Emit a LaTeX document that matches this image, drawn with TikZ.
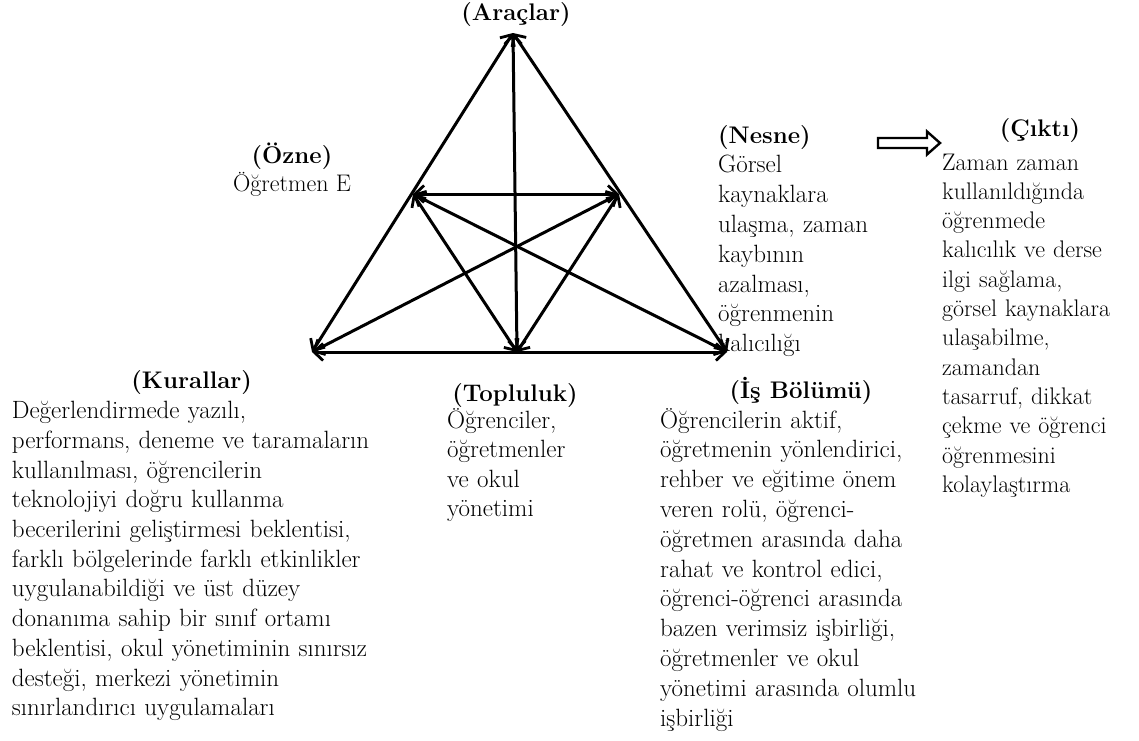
\documentclass[tikz,border=0pt]{standalone}
\usetikzlibrary{arrows.meta}
\begin{document}
\begin{tikzpicture}[x=1pt,y=-1pt,
  conn/.style={line width=3pt, {Straight Barb[length=9pt,width=17pt,line width=2.8pt]}-{Straight Barb[length=9pt,width=17pt,line width=2.8pt]}},
  txt/.style={inner sep=0pt, align=left, text width=#1, anchor=base west},
  ttl/.style={inner sep=0pt, font=\fontsize{24}{29}\selectfont\bfseries, anchor=base},
  outarrow/.style={line width=2.4pt, fill=white, line join=miter}
]
\useasboundingbox (0,0) rectangle (1139,740);

% triangle vertices and mid points
\coordinate (A) at (513,33);
\coordinate (BL) at (312,352);
\coordinate (BR) at (727,352);
\coordinate (LM) at (413,194);
\coordinate (RM) at (619,194);
\coordinate (BM) at (517,352);

\draw[conn] (A) -- (BL);
\draw[conn] (A) -- (BR);
\draw[conn] (BL) -- (BR);
\draw[conn] (A) -- (BM);
\draw[conn] (LM) -- (RM);
\draw[conn] (LM) -- (BM);
\draw[conn] (RM) -- (BM);
\draw[conn] (LM) -- (BR);
\draw[conn] (RM) -- (BL);

% labels
\node[ttl] (arac) at (516,20.7) {(Araçlar)};

\node[inner sep=0pt, anchor=base, align=center, font=\fontsize{24}{28}\selectfont] (ozne) at (292,191)
  {\textbf{(Özne)}\\ Öğretmen E};

\node[txt=300pt, font=\fontsize{25}{29.8}\selectfont] (nesne) at (718,143)
  {\textbf{\fontsize{24}{29.8}\selectfont(Nesne)}\\ Görsel\\ kaynaklara\\ ulaşma, zaman\\ kaybının\\ azalması,\\ öğrenmenin\\ kalıcılığı};

% output arrow
\draw[outarrow] (878,138) -- (927,138) -- (927,131.5) -- (940,143) -- (927,154.5) -- (927,148) -- (878,148) -- cycle;

\node[ttl] (cikti) at (1040,136.7) {(Çıktı)};
\node[txt=300pt, font=\fontsize{24}{29.3}\selectfont] (ciktitxt) at (942,170)
  {Zaman zaman\\ kullanıldığında\\ öğrenmede\\ kalıcılık ve derse\\ ilgi sağlama,\\ görsel kaynaklara\\ ulaşabilme,\\ zamandan\\ tasarruf, dikkat\\ çekme ve öğrenci\\ öğrenmesini\\ kolaylaştırma};

\node[ttl] (kural) at (191.7,388.5) {(Kurallar)};
\node[txt=420pt, font=\fontsize{25}{29.7}\selectfont] (kuraltxt) at (11.7,418.7)
  {Değerlendirmede yazılı,\\ performans, deneme ve taramaların\\ kullanılması, öğrencilerin\\ teknolojiyi doğru kullanma\\ becerilerini geliştirmesi beklentisi,\\ farklı bölgelerinde farklı etkinlikler\\ uygulanabildiği ve üst düzey\\ donanıma sahip bir sınıf ortamı\\ beklentisi, okul yönetiminin sınırsız\\ desteği, merkezi yönetimin\\ sınırlandırıcı uygulamaları};

\node[ttl] (topl) at (515,401.5) {(Topluluk)};
\node[txt=200pt, font=\fontsize{25}{29.3}\selectfont] (topltxt) at (447,428.5)
  {Öğrenciler,\\ öğretmenler\\ ve okul\\ yönetimi};

\node[ttl] (isb) at (801,398.5) {(İş Bölümü)};
\node[txt=320pt, font=\fontsize{25}{29.8}\selectfont] (isbtxt) at (660,428)
  {Öğrencilerin aktif,\\ öğretmenin yönlendirici,\\ rehber ve eğitime önem\\ veren rolü, öğrenci-\\ öğretmen arasında daha\\ rahat ve kontrol edici,\\ öğrenci-öğrenci arasında\\ bazen verimsiz işbirliği,\\ öğretmenler ve okul\\ yönetimi arasında olumlu\\ işbirliği};

\end{tikzpicture}
\end{document}
